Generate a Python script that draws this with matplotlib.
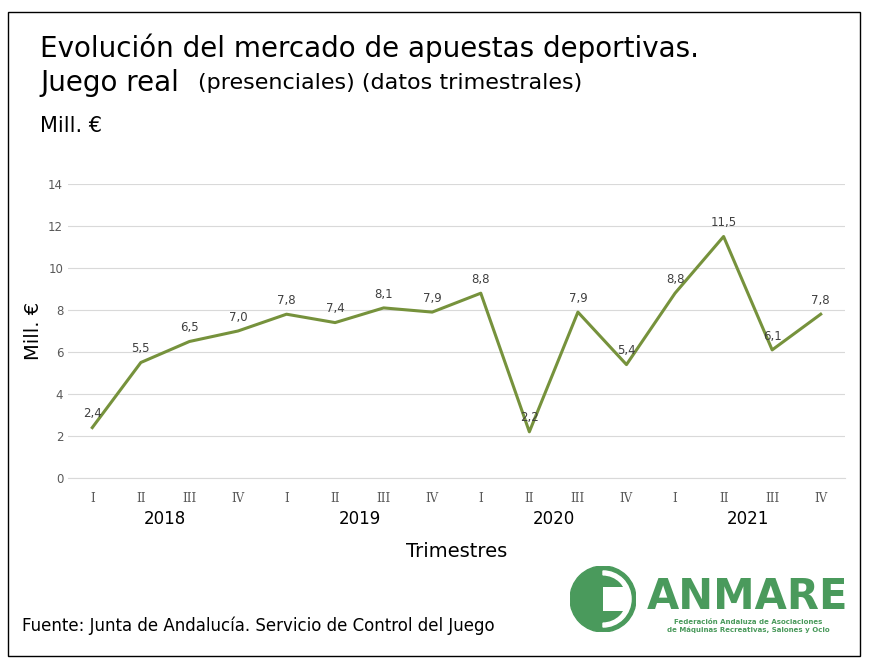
import matplotlib
matplotlib.use("Agg")
import matplotlib.pyplot as plt
from matplotlib.patches import Rectangle, Circle, Wedge

quarters = ["I","II","III","IV"]*4
years = ["2018","2019","2020","2021"]
values = [2.4,5.5,6.5,7.0,7.8,7.4,8.1,7.9,8.8,2.2,7.9,5.4,8.8,11.5,6.1,7.8]
labels = ["2,4","5,5","6,5","7,0","7,8","7,4","8,1","7,9","8,8","2,2","7,9","5,4","8,8","11,5","6,1","7,8"]

W,H = 869,668
fig = plt.figure(figsize=(W/100,H/100), dpi=100)
fig.patches.append(Rectangle((8/W,12/H),(860-8)/W,(656-12)/H, transform=fig.transFigure, fill=False, ec="black", lw=1))
fig.text(40/W,1-48/H,"Evolución del mercado de apuestas deportivas.",fontsize=20,va="center")
fig.text(40/W,1-83/H,"Juego real",fontsize=20,va="center")
fig.text(198/W,1-83/H,"(presenciales) (datos trimestrales)",fontsize=16,va="center")
fig.text(40/W,1-126/H,"Mill. €",fontsize=15,va="center")
fig.text(22/W,1-626/H,"Fuente: Junta de Andalucía. Servicio de Control del Juego",fontsize=12,va="center")

ax = fig.add_axes([68/W,1-478/H,(845-68)/W,(478-184)/H])
x = list(range(len(values)))
ax.plot(x,values,color="#76923C",lw=2.2)
for xi,v,l in zip(x,values,labels):
    ax.text(xi,v+0.35,l,ha="center",va="bottom",fontsize=8.5,color="#404040")
ax.set_xlim(-0.5,15.5); ax.set_ylim(0,14)
ax.set_yticks(range(0,15,2))
ax.grid(axis="y",color="#d9d9d9",lw=0.8)
ax.set_axisbelow(True)
for s in ["top","right","left"]: ax.spines[s].set_visible(False)
ax.spines["bottom"].set_color("#d9d9d9")
ax.tick_params(axis="y",length=0,labelsize=8.5,labelcolor="#595959")
ax.set_xticks(x); ax.set_xticklabels(quarters,fontsize=8.5,color="#595959",family="DejaVu Serif")
ax.tick_params(axis="x",length=0,pad=10)
for i,y in enumerate(years):
    ax.text(1.5+4*i,-0.11,y,transform=ax.get_xaxis_transform(),ha="center",va="top",fontsize=12)
ax.set_xlabel("Trimestres",fontsize=14,labelpad=27)
ax.set_ylabel("Mill. €",fontsize=14,labelpad=4)

# logo
g="#4a9a5c"
lax = fig.add_axes([570/W,1-632/H,66/W,66/H]); lax.set_xlim(-1,1); lax.set_ylim(-1,1); lax.axis("off"); lax.set_aspect("equal")
lax.add_patch(Circle((0,0),1,color=g))
lax.add_patch(Rectangle((0,-0.35),0.8,0.7,fc="white",ec="none"))
lax.add_patch(Wedge((0,0),0.85,-90,90,width=0.12,color="white"))
fig.text(748/W,1-597/H,"ANMARE",fontsize=30,color=g,weight="bold",ha="center",va="center")
fig.text(748/W,1-626/H,"Federación Andaluza de Asociaciones\nde Máquinas Recreativas, Salones y Ocio",fontsize=5,color=g,ha="center",va="center",weight="bold")
fig.savefig("out.png",dpi=100)
